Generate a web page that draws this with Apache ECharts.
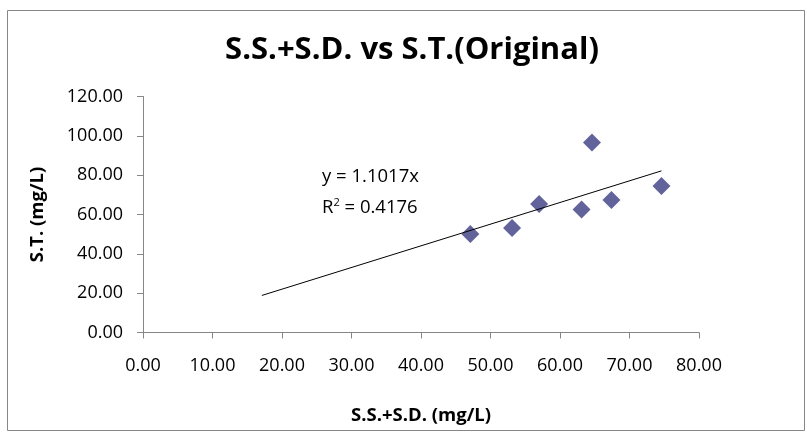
<!DOCTYPE html>
<html>
<head>
<meta charset="utf-8">
<script src="https://cdn.jsdelivr.net/npm/echarts@6/dist/echarts.min.js"></script>
<style>
  html, body { margin: 0; padding: 0; background: #fff; }
  #chart { width: 807px; height: 432px; }
</style>
</head>
<body>
<div id="chart"></div>
<script>
// Measured samples: S.S.+S.D. (x) against S.T. (y), both in mg/L
const ssSd = [47.1, 53.1, 57.0, 63.1, 64.6, 67.4, 74.6];
const st   = [50.1, 53.1, 65.4, 62.6, 96.6, 67.4, 74.5];

// Linear trendline forced through the origin
const trendSlope = 1.1017;
const trendR2 = 0.4176;
const trendBackCast = 30; // trendline extended backwards by this many x-units

const xTicks = [0, 10, 20, 30, 40, 50, 60, 70, 80];
const yTicks = [0, 20, 40, 60, 80, 100, 120];

const points = ssSd.map((x, i) => [x, st[i]]);
const xMin = Math.min(...ssSd), xMax = Math.max(...ssSd);
const trendStart = xMin - trendBackCast;
const trendLine = [[trendStart, trendSlope * trendStart], [xMax, trendSlope * xMax]];

const font = '"Open Sans", Lato, sans-serif';
const chart = echarts.init(document.getElementById('chart'), null, { renderer: 'canvas' });

chart.setOption({
  animation: false,
  backgroundColor: '#ffffff',
  title: {
    text: 'S.S.+S.D. vs S.T.(Original)',
    left: 407, top: 30, textAlign: 'center',
    textStyle: { fontFamily: font, fontWeight: 'bold', fontSize: 31, color: '#000' }
  },
  grid: { left: 143, right: 108, top: 96.5, bottom: 99.5, containLabel: false },
  xAxis: {
    type: 'value', min: xTicks[0], max: xTicks[xTicks.length - 1], interval: 10,
    name: 'S.S.+S.D. (mg/L)', nameLocation: 'middle', nameGap: 74,
    nameTextStyle: { fontFamily: font, fontWeight: 'bold', fontSize: 18.5, color: '#000' },
    axisLine: { show: true, lineStyle: { color: '#868686', width: 1 } },
    axisTick: { show: true, length: 6, lineStyle: { color: '#868686' } },
    splitLine: { show: false },
    axisLabel: { margin: 24, fontFamily: font, fontSize: 18, color: '#000', formatter: v => v.toFixed(2) }
  },
  yAxis: {
    type: 'value', min: yTicks[0], max: yTicks[yTicks.length - 1], interval: 20,
    name: 'S.T. (mg/L)', nameLocation: 'middle', nameGap: 96, nameRotate: 90,
    nameTextStyle: { fontFamily: font, fontWeight: 'bold', fontSize: 18.5, color: '#000' },
    axisLine: { show: true, lineStyle: { color: '#868686', width: 1 } },
    axisTick: { show: true, length: 6, lineStyle: { color: '#868686' } },
    splitLine: { show: false },
    axisLabel: { margin: 20, fontFamily: font, fontSize: 18, color: '#000', formatter: v => v.toFixed(2) }
  },
  series: [
    {
      type: 'line', data: trendLine, symbol: 'none', silent: true,
      lineStyle: { color: '#000', width: 1 }, z: 3
    },
    {
      type: 'scatter', data: points, symbol: 'diamond', symbolSize: 18,
      itemStyle: { color: '#63639C', opacity: 1 }, z: 2
    }
  ],
  graphic: [
    {
      type: 'rect', left: 5, top: 8, z: -10,
      shape: { width: 797, height: 420 },
      style: { fill: 'none', stroke: '#868686', lineWidth: 1 }
    },
    {
      type: 'text', left: 322, top: 167,
      style: { text: 'y = ' + trendSlope + 'x', fontFamily: font, fontSize: 18.5, fill: '#000' }
    },
    {
      type: 'text', left: 322, top: 197,
      style: {
        text: 'R{sup|2} = ' + trendR2,
        fontFamily: font, fontSize: 18.5, fill: '#000',
        rich: { sup: { fontFamily: font, fontSize: 11, verticalAlign: 'top', padding: [0, 0, 10, 0] } }
      }
    }
  ]
});
</script>
</body>
</html>
